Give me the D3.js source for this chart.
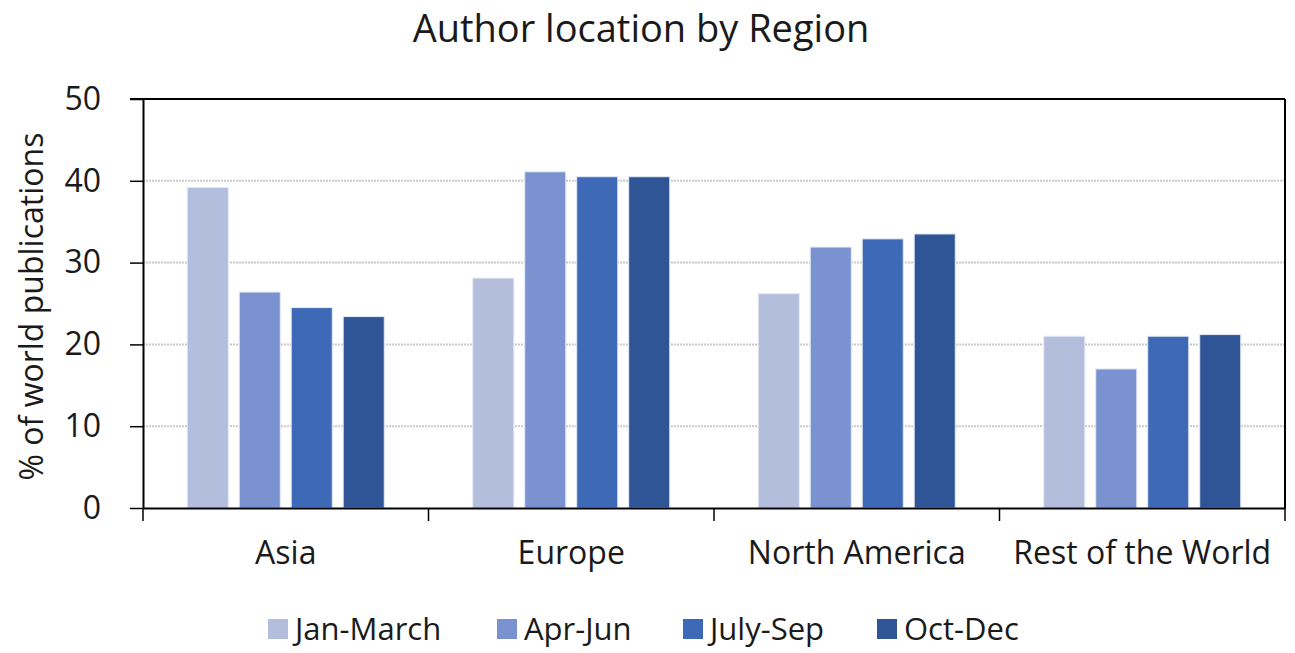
<!DOCTYPE html>
<html>
<head>
<meta charset="utf-8">
<script src="https://cdn.jsdelivr.net/npm/d3@7"></script>
<style>
  body { margin: 0; background: #fff; }
  text { font-family: "Open Sans", "Noto Sans", sans-serif; fill: #1a1a1a; }
</style>
</head>
<body>
<script>
var regions = ["Asia", "Europe", "North America", "Rest of the World"];
var quarters = ["Jan-March", "Apr-Jun", "July-Sep", "Oct-Dec"];
var janMarch = [39.2, 28.1, 26.2, 21.0];
var aprJun   = [26.4, 41.1, 31.9, 17.0];
var julySep  = [24.5, 40.5, 32.9, 21.0];
var octDec   = [23.4, 40.5, 33.5, 21.2];
var yTicks = [0, 10, 20, 30, 40, 50];
var colors = ["#b3bedd", "#7a92cf", "#3d69b7", "#2f5597"];

var seriesValues = [janMarch, aprJun, julySep, octDec];

var svgWidth = 1295, svgHeight = 653;
var margin = {top: 99, right: 10, bottom: 145, left: 143};
var width = svgWidth - margin.left - margin.right;
var height = svgHeight - margin.top - margin.bottom;

var svg = d3.select("body").append("svg")
    .attr("width", svgWidth)
    .attr("height", svgHeight);

var g = svg.append("g")
    .attr("transform", "translate(" + margin.left + "," + margin.top + ")");

var x0 = d3.scaleBand()
    .domain(regions)
    .range([0, width])
    .paddingInner(0.31)
    .paddingOuter(0.155);

var x1 = d3.scaleBand()
    .domain(quarters)
    .range([0, x0.bandwidth()])
    .paddingInner(0.21);

var y = d3.scaleLinear()
    .domain([0, 50])
    .range([height, 0]);

// gridlines
g.selectAll("line.grid")
    .data(yTicks.filter(function(d){ return d > 0 && d < 50; }))
    .enter().append("line")
    .attr("class", "grid")
    .attr("x1", 0)
    .attr("x2", width)
    .attr("y1", function(d){ return y(d); })
    .attr("y2", function(d){ return y(d); })
    .attr("stroke", "#cacaca")
    .attr("stroke-width", 2)
    .attr("stroke-dasharray", "2,1");

// bars
var groups = g.selectAll("g.region")
    .data(regions)
    .enter().append("g")
    .attr("class", "region")
    .attr("transform", function(d){ return "translate(" + x0(d) + ",0)"; });

groups.selectAll("rect")
    .data(function(d, i){
        return quarters.map(function(q, j){ return {q: q, v: seriesValues[j][i], j: j}; });
    })
    .enter().append("rect")
    .attr("x", function(d){ return x1(d.q); })
    .attr("y", function(d){ return y(d.v); })
    .attr("width", x1.bandwidth())
    .attr("height", function(d){ return height - y(d.v); })
    .attr("fill", function(d){ return colors[d.j]; })
    .attr("stroke", "#e4e9f5")
    .attr("stroke-width", 1);

// y axis
var yAxis = g.append("g")
    .call(d3.axisLeft(y).tickValues(yTicks).tickSize(13).tickPadding(29).tickSizeOuter(0));
yAxis.select(".domain").attr("stroke", "#000").attr("stroke-width", 2);
yAxis.selectAll(".tick line").attr("stroke", "#000").attr("stroke-width", 1.5);
yAxis.selectAll(".tick text")
    .attr("font-size", 32)
    .attr("fill", "#1a1a1a");

// x axis
var xAxis = g.append("g")
    .attr("transform", "translate(0," + height + ")")
    .call(d3.axisBottom(x0).tickSize(0).tickPadding(33));
xAxis.select(".domain").attr("stroke", "#000").attr("stroke-width", 2);
xAxis.selectAll(".tick text")
    .attr("font-size", 32)
    .attr("fill", "#1a1a1a");

// category separator ticks
var sepPositions = regions.map(function(d){ return x0(d) - x0.step() * x0.paddingOuter(); });
sepPositions.push(width);
g.selectAll("line.sep")
    .data(sepPositions)
    .enter().append("line")
    .attr("x1", function(d){ return d; })
    .attr("x2", function(d){ return d; })
    .attr("y1", height)
    .attr("y2", height + 13)
    .attr("stroke", "#000")
    .attr("stroke-width", 1.5);

// frame top and right
g.append("line")
    .attr("x1", -13).attr("x2", width)
    .attr("y1", 0).attr("y2", 0)
    .attr("stroke", "#000").attr("stroke-width", 2);
g.append("line")
    .attr("x1", width).attr("x2", width)
    .attr("y1", 0).attr("y2", height)
    .attr("stroke", "#000").attr("stroke-width", 2);

// title
svg.append("text")
    .attr("x", 641)
    .attr("y", 42)
    .attr("text-anchor", "middle")
    .attr("font-size", 38)
    .text("Author location by Region");

// y label
svg.append("text")
    .attr("transform", "translate(43," + (margin.top + height / 2 + 3) + ") rotate(-90)")
    .attr("text-anchor", "middle")
    .attr("font-size", 32)
    .text("% of world publications");

// legend
var legendX = [268, 497, 683, 877];
var legend = svg.selectAll("g.legend")
    .data(quarters)
    .enter().append("g")
    .attr("class", "legend")
    .attr("transform", function(d, i){ return "translate(" + legendX[i] + ",629)"; });
legend.append("rect")
    .attr("x", 0).attr("y", -10)
    .attr("width", 20).attr("height", 20)
    .attr("fill", function(d, i){ return colors[i]; });
legend.append("text")
    .attr("x", 27)
    .attr("y", 0)
    .attr("dy", "0.35em")
    .attr("font-size", 31)
    .text(function(d){ return d; });
</script>
</body>
</html>
